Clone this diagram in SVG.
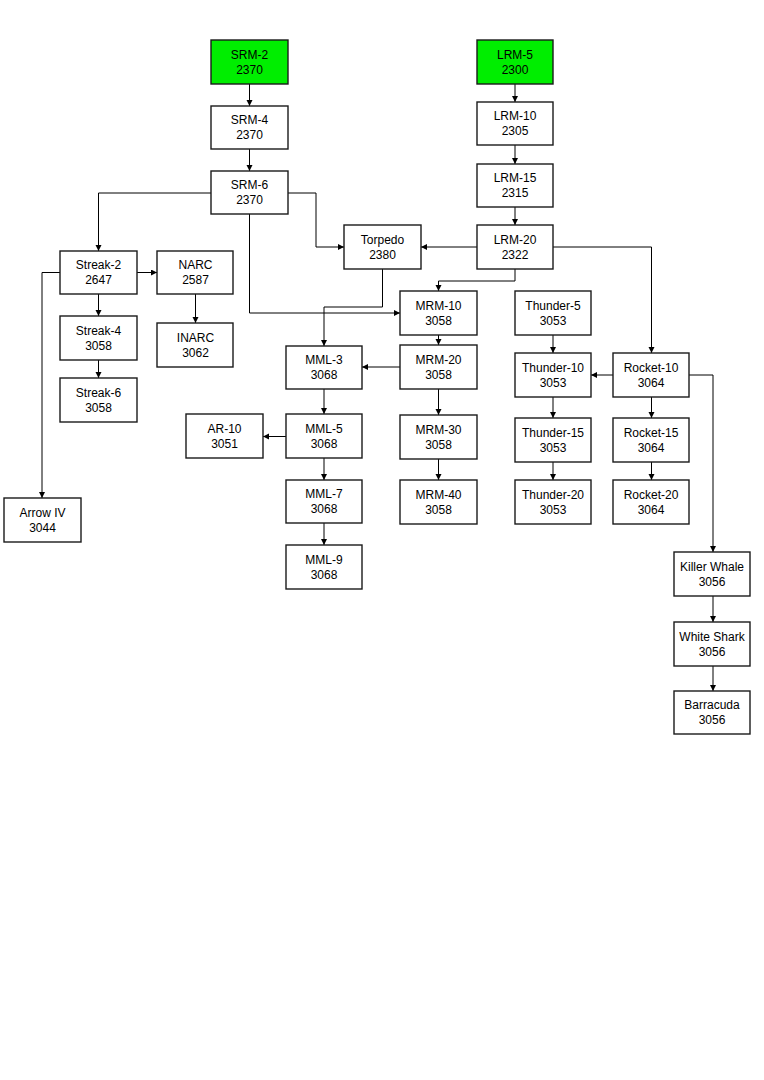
<svg xmlns="http://www.w3.org/2000/svg" width="764" height="1080" viewBox="0 0 764 1080">
<defs>
<marker id="ah" markerUnits="userSpaceOnUse" markerWidth="8" markerHeight="8" refX="6" refY="3" orient="auto">
<path d="M0,0 L6,3 L0,6 Z" fill="#000"/>
</marker>
<style>
.n rect{fill:#fff;stroke:#1a1a1a;stroke-width:1.4}
.n.g rect{fill:#00ee00}
.n text{font-family:"Liberation Sans",Arial,sans-serif;font-size:12px;fill:#000;text-anchor:middle}
#connectors path{fill:none;stroke:#000;stroke-width:1;marker-end:url(#ah)}
</style>
</defs>
<rect width="764" height="1080" fill="#fff"/>
<g id="connectors">
<path d="M249.5,84 V106"/>
<path d="M249.5,149 V171"/>
<path d="M211,193 H98.5 V251"/>
<path d="M288,193 H316 V247 H344"/>
<path d="M249.5,214 V313 H400"/>
<path d="M515,84 V102"/>
<path d="M515,145 V164"/>
<path d="M515,207 V225"/>
<path d="M477,247 H421"/>
<path d="M515,269 V281 H438.5 V291"/>
<path d="M553,247 H651.5 V353"/>
<path d="M382.5,269 V307 H324 V346"/>
<path d="M137,272.5 H157"/>
<path d="M60,272.5 H42 V498"/>
<path d="M98.5,294 V316"/>
<path d="M98.5,360 V378"/>
<path d="M195.5,294 V323"/>
<path d="M438.5,335 V345"/>
<path d="M400,367 H362"/>
<path d="M438.5,389 V415"/>
<path d="M438.5,459 V480"/>
<path d="M324,389 V414"/>
<path d="M286,436.5 H263"/>
<path d="M324,458 V480"/>
<path d="M324,523 V545"/>
<path d="M553,335 V353"/>
<path d="M553,397 V418"/>
<path d="M553,462 V480"/>
<path d="M613,375 H591"/>
<path d="M651.5,397 V418"/>
<path d="M651.5,462 V480"/>
<path d="M689,375 H713 V552"/>
<path d="M713,596 V622"/>
<path d="M713,666 V691"/>
</g>
<g id="srm2" class="n g"><rect x="211" y="40" width="77" height="44"/><text x="249.5" y="59">SRM-2</text><text x="249.5" y="74">2370</text></g>
<g id="srm4" class="n"><rect x="211" y="106" width="77" height="43"/><text x="249.5" y="124">SRM-4</text><text x="249.5" y="139">2370</text></g>
<g id="srm6" class="n"><rect x="211" y="171" width="77" height="43"/><text x="249.5" y="189">SRM-6</text><text x="249.5" y="204">2370</text></g>
<g id="lrm5" class="n g"><rect x="477" y="40" width="76" height="44"/><text x="515" y="59">LRM-5</text><text x="515" y="74">2300</text></g>
<g id="lrm10" class="n"><rect x="477" y="102" width="76" height="43"/><text x="515" y="120">LRM-10</text><text x="515" y="135">2305</text></g>
<g id="lrm15" class="n"><rect x="477" y="164" width="76" height="43"/><text x="515" y="182">LRM-15</text><text x="515" y="197">2315</text></g>
<g id="lrm20" class="n"><rect x="477" y="225" width="76" height="44"/><text x="515" y="244">LRM-20</text><text x="515" y="259">2322</text></g>
<g id="torpedo" class="n"><rect x="344" y="225" width="77" height="44"/><text x="382.5" y="244">Torpedo</text><text x="382.5" y="259">2380</text></g>
<g id="streak2" class="n"><rect x="60" y="251" width="77" height="43"/><text x="98.5" y="269">Streak-2</text><text x="98.5" y="284">2647</text></g>
<g id="narc" class="n"><rect x="157" y="251" width="76" height="43"/><text x="195.5" y="269">NARC</text><text x="195.5" y="284">2587</text></g>
<g id="streak4" class="n"><rect x="60" y="316" width="77" height="44"/><text x="98.5" y="335">Streak-4</text><text x="98.5" y="350">3058</text></g>
<g id="streak6" class="n"><rect x="60" y="378" width="77" height="44"/><text x="98.5" y="397">Streak-6</text><text x="98.5" y="412">3058</text></g>
<g id="inarc" class="n"><rect x="157" y="323" width="76" height="44"/><text x="195.5" y="342">INARC</text><text x="195.5" y="357">3062</text></g>
<g id="arrowiv" class="n"><rect x="4" y="498" width="77" height="44"/><text x="42.5" y="517">Arrow IV</text><text x="42.5" y="532">3044</text></g>
<g id="mrm10" class="n"><rect x="400" y="291" width="77" height="44"/><text x="438.5" y="310">MRM-10</text><text x="438.5" y="325">3058</text></g>
<g id="mrm20" class="n"><rect x="400" y="345" width="77" height="44"/><text x="438.5" y="364">MRM-20</text><text x="438.5" y="379">3058</text></g>
<g id="mrm30" class="n"><rect x="400" y="415" width="77" height="44"/><text x="438.5" y="434">MRM-30</text><text x="438.5" y="449">3058</text></g>
<g id="mrm40" class="n"><rect x="400" y="480" width="77" height="44"/><text x="438.5" y="499">MRM-40</text><text x="438.5" y="514">3058</text></g>
<g id="mml3" class="n"><rect x="286" y="346" width="76" height="43"/><text x="324" y="364">MML-3</text><text x="324" y="379">3068</text></g>
<g id="mml5" class="n"><rect x="286" y="414" width="76" height="44"/><text x="324" y="433">MML-5</text><text x="324" y="448">3068</text></g>
<g id="ar10" class="n"><rect x="186" y="414" width="77" height="44"/><text x="224.5" y="433">AR-10</text><text x="224.5" y="448">3051</text></g>
<g id="mml7" class="n"><rect x="286" y="480" width="76" height="43"/><text x="324" y="498">MML-7</text><text x="324" y="513">3068</text></g>
<g id="mml9" class="n"><rect x="286" y="545" width="76" height="44"/><text x="324" y="564">MML-9</text><text x="324" y="579">3068</text></g>
<g id="thunder5" class="n"><rect x="515" y="291" width="76" height="44"/><text x="553" y="310">Thunder-5</text><text x="553" y="325">3053</text></g>
<g id="thunder10" class="n"><rect x="515" y="353" width="76" height="44"/><text x="553" y="372">Thunder-10</text><text x="553" y="387">3053</text></g>
<g id="thunder15" class="n"><rect x="515" y="418" width="76" height="44"/><text x="553" y="437">Thunder-15</text><text x="553" y="452">3053</text></g>
<g id="thunder20" class="n"><rect x="515" y="480" width="76" height="44"/><text x="553" y="499">Thunder-20</text><text x="553" y="514">3053</text></g>
<g id="rocket10" class="n"><rect x="613" y="353" width="76" height="44"/><text x="651" y="372">Rocket-10</text><text x="651" y="387">3064</text></g>
<g id="rocket15" class="n"><rect x="613" y="418" width="76" height="44"/><text x="651" y="437">Rocket-15</text><text x="651" y="452">3064</text></g>
<g id="rocket20" class="n"><rect x="613" y="480" width="76" height="44"/><text x="651" y="499">Rocket-20</text><text x="651" y="514">3064</text></g>
<g id="killerwhale" class="n"><rect x="674" y="552" width="76" height="44"/><text x="712" y="571">Killer Whale</text><text x="712" y="586">3056</text></g>
<g id="whiteshark" class="n"><rect x="674" y="622" width="76" height="44"/><text x="712" y="641">White Shark</text><text x="712" y="656">3056</text></g>
<g id="barracuda" class="n"><rect x="674" y="691" width="76" height="43"/><text x="712" y="709">Barracuda</text><text x="712" y="724">3056</text></g>
</svg>
